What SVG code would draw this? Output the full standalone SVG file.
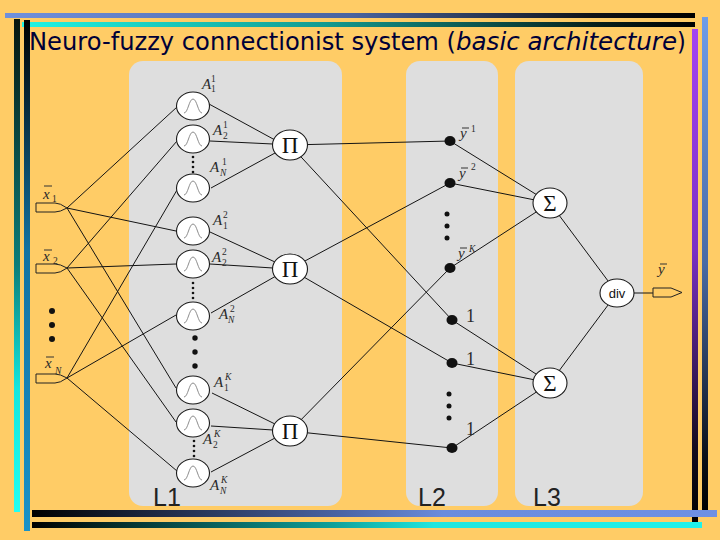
<svg xmlns="http://www.w3.org/2000/svg" width="720" height="540" viewBox="0 0 720 540">
<defs>
<linearGradient id="gTop1" x1="0" y1="0" x2="1" y2="0"><stop offset="0" stop-color="#7090DC"/><stop offset="0.5" stop-color="#4A64A0"/><stop offset="0.85" stop-color="#101318"/><stop offset="1" stop-color="#000"/></linearGradient>
<linearGradient id="gTop2" x1="0" y1="0" x2="1" y2="0"><stop offset="0" stop-color="#20F4E4"/><stop offset="0.45" stop-color="#139A90"/><stop offset="0.85" stop-color="#06201C"/><stop offset="1" stop-color="#000"/></linearGradient>
<linearGradient id="gBot1" x1="0" y1="0" x2="1" y2="0"><stop offset="0" stop-color="#000"/><stop offset="0.45" stop-color="#4A64A4"/><stop offset="0.6" stop-color="#6A8CDC"/><stop offset="1" stop-color="#6E90E4"/></linearGradient>
<linearGradient id="gBot2" x1="0" y1="0" x2="1" y2="0"><stop offset="0" stop-color="#000"/><stop offset="0.45" stop-color="#10A09A"/><stop offset="0.6" stop-color="#20E6DE"/><stop offset="1" stop-color="#20F2EA"/></linearGradient>
<linearGradient id="gL1" x1="0" y1="0" x2="0" y2="1"><stop offset="0" stop-color="#07150F"/><stop offset="0.5" stop-color="#0C7E7A"/><stop offset="0.75" stop-color="#14E6DE"/><stop offset="1" stop-color="#22FFF2"/></linearGradient>
<linearGradient id="gL2" x1="0" y1="0" x2="0" y2="1"><stop offset="0" stop-color="#000"/><stop offset="0.45" stop-color="#1272A2"/><stop offset="1" stop-color="#1A92C8"/></linearGradient>
<linearGradient id="gR1" x1="0" y1="0" x2="0" y2="1"><stop offset="0" stop-color="#A244F2"/><stop offset="0.45" stop-color="#7A30C4"/><stop offset="0.85" stop-color="#140A1E"/><stop offset="1" stop-color="#000"/></linearGradient>
<linearGradient id="gR2" x1="0" y1="0" x2="0" y2="1"><stop offset="0" stop-color="#6E9CE8"/><stop offset="0.5" stop-color="#4A6AA4"/><stop offset="0.9" stop-color="#0A0E16"/><stop offset="1" stop-color="#000"/></linearGradient>
<g id="mf"><ellipse rx="16.5" ry="14" class="node"/><path d="M-9,7 C-5,7 -4,-7 0,-7 C4,-7 5,7 9,7" class="bell"/></g>
</defs>
<style>
.node{fill:#fff;stroke:#1a1a1a;stroke-width:1.1}
.bell{fill:none;stroke:#707070;stroke-width:0.8}
.edge{stroke:#141414;stroke-width:1;fill:none}
.tab{fill:none;stroke:#222;stroke-width:1}
.dot{fill:#111}
.ov{stroke:#333;stroke-width:1}
.mA{font-family:"Liberation Serif",serif;font-style:italic;font-size:15px;fill:#2a2a2a}
.ms{font-family:"Liberation Serif",serif;font-size:9.5px;fill:#2a2a2a}
.it{font-style:italic}
.one{font-family:"Liberation Serif",serif;font-size:18px;fill:#2a2a2a}
.sym{font-family:"Liberation Serif",serif;font-size:23px;fill:#111;text-anchor:middle}
.div{font-family:"Liberation Sans",Arial,sans-serif;font-size:13px;fill:#111;text-anchor:middle}
.layer{font-family:"Liberation Sans",Arial,sans-serif;font-size:25px;fill:#222}
.title{font-family:"DejaVu Sans Condensed","DejaVu Sans",sans-serif;font-size:25px;fill:#000038}
.panel{fill:#DEDEDE}
</style>
<rect x="0" y="0" width="720" height="540" fill="#FFCC66"/>

<g id="decoration">
<rect x="5" y="13" width="690" height="5" fill="url(#gTop1)"/>
<rect x="22" y="22" width="673" height="5" fill="url(#gTop2)"/>
<rect x="14" y="19" width="6" height="493" fill="url(#gL1)"/>
<rect x="24" y="20" width="6" height="511" fill="url(#gL2)"/>
<rect x="692" y="29" width="6" height="493" fill="url(#gR1)"/>
<rect x="702" y="17" width="6" height="493" fill="url(#gR2)"/>
<rect x="32" y="510" width="685" height="7" fill="url(#gBot1)"/>
<rect x="32" y="522" width="670" height="6" fill="url(#gBot2)"/>
</g>

<g id="title">
<text class="title" x="29" y="50" textLength="427" lengthAdjust="spacingAndGlyphs">Neuro-fuzzy connectionist system (</text>
<text class="title it" x="456" y="50" textLength="221" lengthAdjust="spacingAndGlyphs">basic architecture</text>
<text class="title" x="677" y="50">)</text>
</g>

<g id="panels">
<rect class="panel" x="129" y="61" width="213" height="445" rx="14"/>
<rect class="panel" x="406" y="61" width="92" height="445" rx="14"/>
<rect class="panel" x="515" y="61" width="128" height="445" rx="14"/>
<text class="layer" x="153" y="506">L1</text>
<text class="layer" x="418" y="506">L2</text>
<text class="layer" x="533" y="506">L3</text>
</g>

<g id="connectors">
<path class="edge" d="M67,208 L177,107 M67,208 L176,231 M67,208 L176,388"/>
<path class="edge" d="M67,268 L177,141 M67,268 L176,264 M67,268 L176,422"/>
<path class="edge" d="M67,378 L177,190 M67,378 L176,315 M67,378 L177,471"/>
<path class="edge" d="M209,104 L275,140 M210,141 L273,144 M211,188 L275,153"/>
<path class="edge" d="M210,232 L275,262 M210,264 L273,268 M211,313 L276,276"/>
<path class="edge" d="M212,393 L275,424 M211,426 L273,430 M211,472 L275,438"/>
<path class="edge" d="M290,145 L450,141 M290,145 L452,320"/>
<path class="edge" d="M290,269 L450,183 M290,269 L452,363"/>
<path class="edge" d="M290,431 L450,268 M290,431 L452,448"/>
<path class="edge" d="M450,141 L550,203 M450,183 L550,203 M450,268 L550,203"/>
<path class="edge" d="M452,320 L550,383 M452,363 L550,383 M452,448 L550,383"/>
<path class="edge" d="M550,203 L617,293 M550,383 L617,293 M634,293 L653,293"/>
</g>

<g id="in-x1">
<path class="tab" d="M36,203 H55 Q60,203 67,208 Q60,212 55,212 H36 Z"/>
<text class="mA" x="43" y="199">x</text><line class="ov" x1="44" y1="186" x2="52" y2="186"/><text class="ms" x="52" y="202">1</text>
</g>
<g id="in-x2">
<path class="tab" d="M36,264 H55 Q60,264 67,268 Q60,273 55,273 H36 Z"/>
<text class="mA" x="43" y="261">x</text><line class="ov" x1="44" y1="250" x2="52" y2="250"/><text class="ms" x="53" y="264">2</text>
</g>
<g id="in-dots">
<circle class="dot" cx="52" cy="311" r="3"/><circle class="dot" cx="52" cy="325" r="3"/><circle class="dot" cx="52" cy="339" r="3"/>
</g>
<g id="in-xN">
<path class="tab" d="M36,374 H55 Q60,374 67,378 Q60,383 55,383 H36 Z"/>
<text class="mA" x="45" y="368">x</text><line class="ov" x1="46" y1="357" x2="54" y2="357"/><text class="ms it" x="55" y="374">N</text>
</g>

<g id="mf-1-1"><use href="#mf" x="193" y="106"/><text class="mA" x="202" y="89">A</text><text class="ms" x="211" y="82">1</text><text class="ms" x="211" y="92">1</text></g>
<g id="mf-2-1"><use href="#mf" x="193" y="139"/><text class="mA" x="213" y="135">A</text><text class="ms" x="223" y="128">1</text><text class="ms" x="223" y="139">2</text></g>
<g id="mf-N-1"><use href="#mf" x="193" y="188"/><text class="mA" x="210" y="172">A</text><text class="ms" x="222" y="165">1</text><text class="ms it" x="220" y="176">N</text></g>
<g id="mf-1-2"><use href="#mf" x="193" y="231"/><text class="mA" x="213" y="225">A</text><text class="ms" x="223" y="218">2</text><text class="ms" x="223" y="229">1</text></g>
<g id="mf-2-2"><use href="#mf" x="193" y="264"/><text class="mA" x="212" y="262">A</text><text class="ms" x="222" y="255">2</text><text class="ms" x="222" y="266">2</text></g>
<g id="mf-N-2"><use href="#mf" x="193" y="316"/><text class="mA" x="219" y="319">A</text><text class="ms" x="230" y="312">2</text><text class="ms it" x="228" y="323">N</text></g>
<g id="mf-1-K"><use href="#mf" x="193" y="390"/><text class="mA" x="214" y="387">A</text><text class="ms it" x="225" y="380">K</text><text class="ms" x="224" y="391">1</text></g>
<g id="mf-2-K"><use href="#mf" x="193" y="423"/><text class="mA" x="203" y="444">A</text><text class="ms it" x="214" y="437">K</text><text class="ms" x="213" y="448">2</text></g>
<g id="mf-N-K"><use href="#mf" x="193" y="473"/><text class="mA" x="210" y="490">A</text><text class="ms it" x="221" y="483">K</text><text class="ms it" x="220" y="494">N</text></g>

<g id="l1-dots" class="dot">
<circle cx="193" cy="157" r="1.3"/><circle cx="193" cy="162" r="1.3"/><circle cx="193" cy="167" r="1.3"/><circle cx="193" cy="172" r="1.3"/>
<circle cx="193" cy="283" r="1.3"/><circle cx="193" cy="288" r="1.3"/><circle cx="193" cy="293" r="1.3"/><circle cx="193" cy="298" r="1.3"/>
<circle cx="195" cy="338" r="2.7"/><circle cx="195" cy="352" r="2.7"/><circle cx="195" cy="366" r="2.7"/>
<circle cx="194" cy="441" r="1.3"/><circle cx="194" cy="446" r="1.3"/><circle cx="194" cy="451" r="1.3"/><circle cx="194" cy="456" r="1.3"/>
</g>

<g id="prod-1"><ellipse class="node" cx="290" cy="145" rx="17.5" ry="15"/><text class="sym" x="290" y="153">Π</text></g>
<g id="prod-2"><ellipse class="node" cx="290" cy="269" rx="17.5" ry="15"/><text class="sym" x="290" y="277">Π</text></g>
<g id="prod-K"><ellipse class="node" cx="290" cy="431" rx="17.5" ry="15"/><text class="sym" x="290" y="439">Π</text></g>

<g id="y-1"><ellipse class="dot" cx="450" cy="141" rx="5.5" ry="5"/><text class="mA" x="460" y="138">y</text><line class="ov" x1="462" y1="128" x2="469" y2="128"/><text class="ms" x="471" y="132">1</text></g>
<g id="y-2"><ellipse class="dot" cx="450" cy="183" rx="5.5" ry="5"/><text class="mA" x="459" y="178">y</text><line class="ov" x1="461" y1="168" x2="468" y2="168"/><text class="ms" x="471" y="170">2</text></g>
<g id="y-dots" class="dot"><circle cx="447" cy="214" r="2.5"/><circle cx="447" cy="226" r="2.5"/><circle cx="447" cy="238" r="2.5"/></g>
<g id="y-K"><ellipse class="dot" cx="450" cy="268" rx="5.5" ry="5"/><text class="mA" x="458" y="258">y</text><line class="ov" x1="460" y1="248" x2="467" y2="248"/><text class="ms it" x="469" y="252">K</text></g>
<g id="one-1"><ellipse class="dot" cx="452" cy="320" rx="5.5" ry="5"/><text class="one" x="466" y="322">1</text></g>
<g id="one-2"><ellipse class="dot" cx="452" cy="363" rx="5.5" ry="5"/><text class="one" x="466" y="365">1</text></g>
<g id="one-dots" class="dot"><circle cx="449" cy="394" r="2.5"/><circle cx="449" cy="406" r="2.5"/><circle cx="449" cy="418" r="2.5"/></g>
<g id="one-K"><ellipse class="dot" cx="452" cy="448" rx="5.5" ry="5"/><text class="one" x="466" y="435">1</text></g>

<g id="sum-1"><ellipse class="node" cx="550" cy="203" rx="17" ry="15"/><text class="sym" x="550" y="211">Σ</text></g>
<g id="sum-2"><ellipse class="node" cx="550" cy="383" rx="17" ry="15"/><text class="sym" x="550" y="391">Σ</text></g>
<g id="div"><ellipse class="node" cx="617" cy="293" rx="17" ry="14"/><text class="div" x="617" y="298">div</text></g>
<g id="out">
<path class="tab" d="M653,288 H671 L682,292.5 L671,297 H653 Z"/>
<text class="mA" x="658" y="274">y</text><line class="ov" x1="660" y1="264" x2="667" y2="264"/>
</g>
</svg>
